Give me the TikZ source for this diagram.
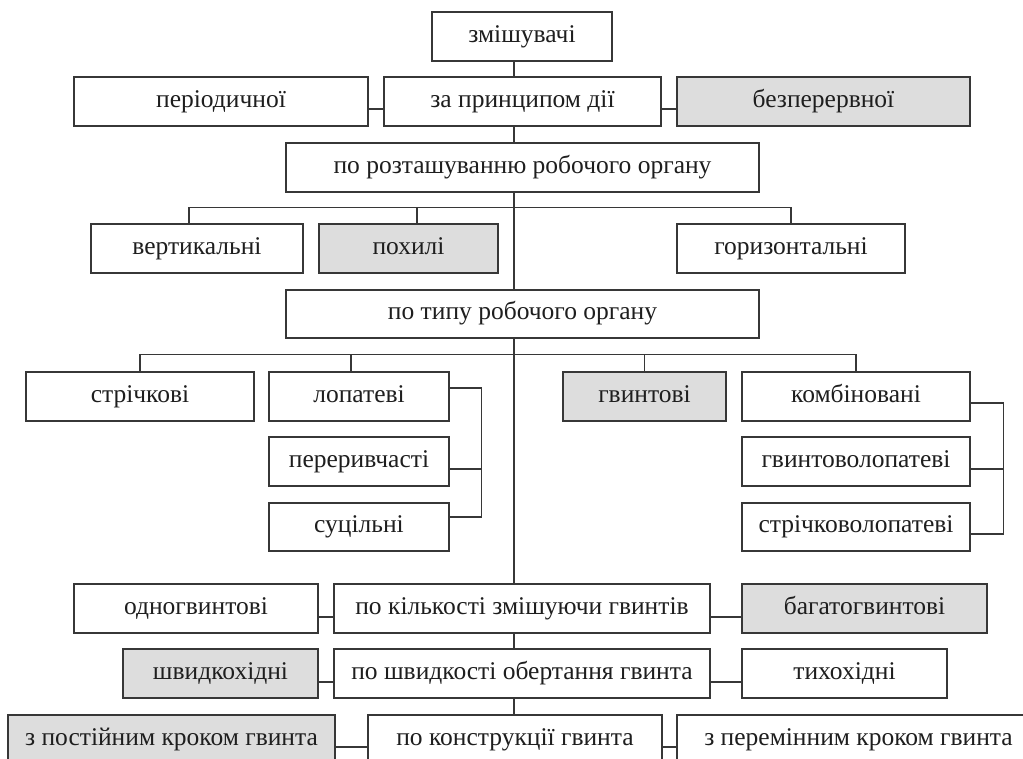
\documentclass[tikz,border=0pt]{standalone}
\usepackage{fontspec}
\setmainfont{Liberation Serif}
\definecolor{linec}{RGB}{55,55,55}
\definecolor{textc}{RGB}{30,30,30}
\definecolor{fillc}{RGB}{221,221,221}
\newcommand{\bx}[7]{\node[#6, minimum width=#4pt-#2pt, minimum height=#5pt-#3pt] (#1) at ({(#2pt+#4pt)/2},{-(#3pt+#5pt)/2}) {#7};}
\tikzset{
  box/.style={draw=linec, line width=1.2pt, inner sep=0pt, fill=white, text=textc, font=\fontsize{25.5}{30}\selectfont, text height=17pt, text depth=6pt, anchor=center},
  greybox/.style={box, fill=fillc},
  conn/.style={draw=linec, line width=1.2pt}
}
\begin{document}
\begin{tikzpicture}
\useasboundingbox (0,0) rectangle (1023pt,-758pt);
\clip (0,0) rectangle (1023pt,-758pt);
\fill[white] (0,0) rectangle (1023pt,-758pt);
\coordinate (T) at (514pt,0pt);
\bx{zm}{432}{12}{612}{61}{box}{змішувачі}
\bx{per}{74}{77}{368}{126}{box}{періодичної}
\bx{prin}{384}{77}{661}{126}{box}{за принципом дії}
\bx{bez}{677}{77}{970}{126}{greybox}{безперервної}
\bx{roz}{286}{143}{759}{192}{box}{по розташуванню робочого органу}
\bx{vert}{91}{224}{303}{273}{box}{вертикальні}
\bx{poh}{319}{224}{498}{273}{greybox}{похилі}
\bx{hor}{677}{224}{905}{273}{box}{горизонтальні}
\bx{tip}{286}{290}{759}{338}{box}{по типу робочого органу}
\bx{str}{26}{372}{254}{421}{box}{стрічкові}
\bx{lop}{269}{372}{449}{421}{box}{лопатеві}
\bx{perv}{269}{437}{449}{486}{box}{переривчасті}
\bx{sut}{269}{503}{449}{551}{box}{суцільні}
\bx{gv}{563}{372}{726}{421}{greybox}{гвинтові}
\bx{komb}{742}{372}{970}{421}{box}{комбіновані}
\bx{gvl}{742}{437}{970}{486}{box}{гвинтоволопатеві}
\bx{strl}{742}{503}{970}{551}{box}{стрічковолопатеві}
\bx{odn}{74}{584}{318}{633}{box}{одногвинтові}
\bx{kil}{334}{584}{710}{633}{box}{по кількості змішуючи гвинтів}
\bx{bag}{742}{584}{987}{633}{greybox}{багатогвинтові}
\bx{shv}{123}{649}{318}{698}{greybox}{швидкохідні}
\bx{obe}{334}{649}{710}{698}{box}{по швидкості обертання гвинта}
\bx{tih}{742}{649}{947}{698}{box}{тихохідні}
\bx{post}{8}{715}{335}{764}{greybox}{з постійним кроком гвинта}
\bx{kon}{368}{715}{662}{764}{box}{по конструкції гвинта}
\bx{perem}{677}{715}{1040}{764}{box}{з перемінним кроком гвинта}
% trunk
\draw[conn] (zm.south -| T) -- (prin.north -| T);
\draw[conn] (prin.south -| T) -- (roz.north -| T);
\draw[conn] (roz.south -| T) -- (tip.north -| T);
\draw[conn] (tip.south -| T) -- (kil.north -| T);
\draw[conn] (kil.south -| T) -- (obe.north -| T);
\draw[conn] (obe.south -| T) -- (kon.north -| T);
% row 2
\draw[conn] ([yshift=-7.5pt]per.east) -- ([yshift=-7.5pt]prin.west);
\draw[conn] ([yshift=-7.5pt]prin.east) -- ([yshift=-7.5pt]bez.west);
% row 4
\draw[conn] ([xshift=-8pt]vert.north) -- ++(0,16pt) -| (hor.north);
\draw[conn] ([xshift=8.5pt]poh.north) -- ++(0,16pt);
% row 6
\draw[conn] (str.north) -- ++(0,17pt) -| (komb.north);
\draw[conn] ([xshift=-8pt]lop.north) -- ++(0,17pt);
\draw[conn] (gv.north) -- ++(0,17pt);
% brackets
\draw[conn] ([yshift=8.5pt]lop.east) -| ([xshift=32pt,yshift=10pt]sut.east) -- ([yshift=10pt]sut.east);
\draw[conn] ([yshift=-7.5pt]perv.east) -- ++(32pt,0);
\draw[conn] ([yshift=-6.5pt]komb.east) -| ([xshift=33pt,yshift=-7pt]strl.east) -- ([yshift=-7pt]strl.east);
\draw[conn] ([yshift=-7.5pt]gvl.east) -- ++(33pt,0);
% rows 7-9
\draw[conn] ([yshift=-8.5pt]odn.east) -- ([yshift=-8.5pt]kil.west);
\draw[conn] ([yshift=-8.5pt]kil.east) -- ([yshift=-8.5pt]bag.west);
\draw[conn] ([yshift=-8.5pt]shv.east) -- ([yshift=-8.5pt]obe.west);
\draw[conn] ([yshift=-8.5pt]obe.east) -- ([yshift=-8.5pt]tih.west);
\draw[conn] ([yshift=-7.5pt]post.east) -- ([yshift=-7.5pt]kon.west);
\draw[conn] ([yshift=-7.5pt]kon.east) -- ([yshift=-7.5pt]perem.west);
\end{tikzpicture}
\end{document}
